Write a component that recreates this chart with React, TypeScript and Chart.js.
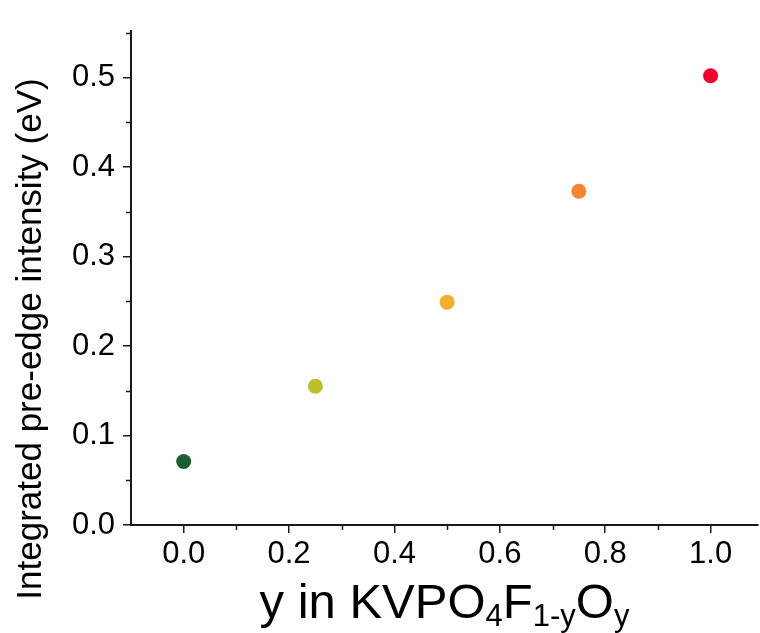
import React, { useEffect, useRef } from "react";
import { Chart, registerables } from "chart.js";

Chart.register(...registerables);

const xValues = [0.0, 0.25, 0.5, 0.75, 1.0];
const yValues = [0.071, 0.155, 0.249, 0.373, 0.502];
const pointColors = ["#1b5e2f", "#bdbf2a", "#f4ae2c", "#f8842f", "#f5002d"];
const xMajorTicks = [0.0, 0.2, 0.4, 0.6, 0.8, 1.0];
const xMinorTicks = [0.1, 0.3, 0.5, 0.7, 0.9];
const yMajorTicks = [0.0, 0.1, 0.2, 0.3, 0.4, 0.5];
const yMinorTicks = [0.05, 0.15, 0.25, 0.35, 0.45, 0.55];
const yTitle = "Integrated pre-edge intensity (eV)";
const xTitleParts: [string, boolean][] = [
  ["y in KVPO", false],
  ["4", true],
  ["F", false],
  ["1-y", true],
  ["O", false],
  ["y", true],
];

const FONT = "'Liberation Sans', Arial, sans-serif";
const AXIS_COLOR = "#1a1a1a";

const decorPlugin = {
  id: "decor",
  afterDraw(chart: any) {
    const ctx = chart.ctx;
    const xs = chart.scales.x;
    const ys = chart.scales.y;
    const area = chart.chartArea;
    ctx.save();
    ctx.strokeStyle = AXIS_COLOR;
    ctx.lineWidth = 1.5;
    // minor ticks
    for (const v of xMinorTicks) {
      const px = Math.round(xs.getPixelForValue(v)) + 0.5;
      ctx.beginPath();
      ctx.moveTo(px, area.bottom);
      ctx.lineTo(px, area.bottom + 5);
      ctx.stroke();
    }
    for (const v of yMinorTicks) {
      const py = Math.round(ys.getPixelForValue(v)) + 0.5;
      ctx.beginPath();
      ctx.moveTo(area.left, py);
      ctx.lineTo(area.left - 5, py);
      ctx.stroke();
    }
    // y title
    ctx.fillStyle = "#000";
    ctx.font = `35px ${FONT}`;
    ctx.textAlign = "center";
    ctx.textBaseline = "alphabetic";
    ctx.save();
    ctx.translate(41, 339);
    ctx.rotate(-Math.PI / 2);
    ctx.fillText(yTitle, 0, 0);
    ctx.restore();
    // x title with subscripts
    const mainFont = `49px ${FONT}`;
    const subFont = `31px ${FONT}`;
    ctx.textAlign = "left";
    let total = 0;
    for (const [t, sub] of xTitleParts) {
      ctx.font = sub ? subFont : mainFont;
      total += ctx.measureText(t).width;
    }
    let x = (area.left + area.right) / 2 - total / 2;
    const baseY = 618;
    for (const [t, sub] of xTitleParts) {
      ctx.font = sub ? subFont : mainFont;
      ctx.fillText(t, x, sub ? baseY + 8 : baseY);
      x += ctx.measureText(t).width;
    }
    ctx.restore();
  },
};

export default function App() {
  const ref = useRef<HTMLCanvasElement | null>(null);
  useEffect(() => {
    if (!ref.current) return;
    const chart = new Chart(ref.current, {
      type: "scatter",
      data: {
        datasets: [
          {
            data: xValues.map((x, i) => ({ x, y: yValues[i] })),
            backgroundColor: pointColors,
            borderWidth: 0,
            pointRadius: 7.5,
          },
        ],
      },
      options: {
        animation: false,
        responsive: false,
        layout: { autoPadding: false, padding: { top: 31, right: 2, left: 0, bottom: 0 } },
        plugins: { legend: { display: false }, tooltip: { enabled: false } },
        scales: {
          x: {
            type: "linear",
            min: -0.1,
            max: 1.09,
            afterBuildTicks: (s: any) => {
              s.ticks = xMajorTicks.map((v) => ({ value: v }));
            },
            afterFit: (s: any) => {
              s.height = 108;
              s.paddingLeft = 0;
              s.paddingRight = 0;
            },
            ticks: {
              color: "#000",
              font: { family: FONT, size: 31 },
              padding: 3,
              maxRotation: 0,
              callback: (v: any) => Number(v).toFixed(1),
            },
            grid: {
              drawOnChartArea: false,
              tickLength: 8,
              tickColor: AXIS_COLOR,
              lineWidth: 1.5,
            },
            border: { display: true, color: AXIS_COLOR, width: 2 },
          },
          y: {
            type: "linear",
            min: 0,
            max: 0.552,
            afterBuildTicks: (s: any) => {
              s.ticks = yMajorTicks.map((v) => ({ value: v }));
            },
            afterFit: (s: any) => {
              s.width = 131;
              s.paddingTop = 0;
              s.paddingBottom = 0;
            },
            ticks: {
              color: "#000",
              font: { family: FONT, size: 31 },
              padding: 8,
              callback: (v: any) => Number(v).toFixed(1),
            },
            grid: {
              drawOnChartArea: false,
              tickLength: 8,
              tickColor: AXIS_COLOR,
              lineWidth: 1.5,
            },
            border: { display: true, color: AXIS_COLOR, width: 2 },
          },
        },
      },
      plugins: [decorPlugin],
    });
    return () => chart.destroy();
  }, []);
  return (
    <div style={{ position: "absolute", left: 0, top: 0, width: 760, height: 633, background: "#fff" }}>
      <canvas ref={ref} width={760} height={633} style={{ display: "block" }} />
    </div>
  );
}
